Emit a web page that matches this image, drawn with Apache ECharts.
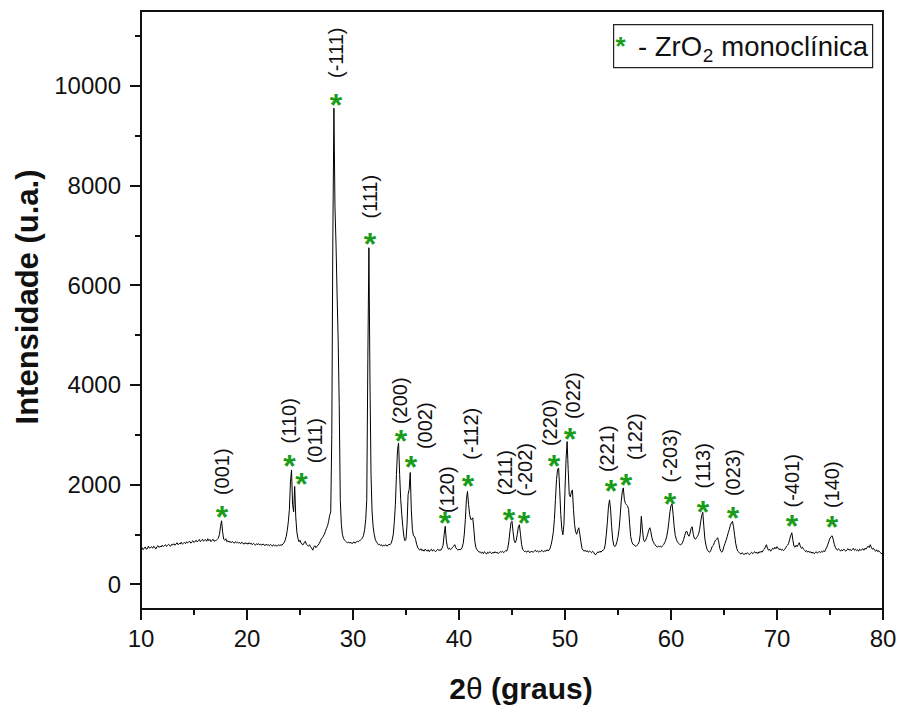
<!DOCTYPE html>
<html>
<head>
<meta charset="utf-8">
<title>DRX ZrO2</title>
<script src="https://cdn.jsdelivr.net/npm/echarts@6/dist/echarts.min.js"></script>
<style>
  html, body { margin: 0; padding: 0; background: #fff; }
  #chart { width: 901px; height: 707px; }
</style>
</head>
<body>
<div id="chart"></div>
<script>
// Diffractogram: intensity sampled every 0.1 degree of 2-theta, from 10.0 to 80.0
const thetaStart = 10.0;
const thetaStep = 0.1;
const intensity = [
  /* 10.0 */ 700, 730, 690, 720, 745, 700, 710, 760, 720, 735,
  /* 11.0 */ 750, 720, 760, 740, 705, 750, 770, 735, 760, 745,
  /* 12.0 */ 780, 750, 770, 790, 755, 780, 800, 770, 760, 800,
  /* 13.0 */ 785, 810, 780, 800, 830, 790, 815, 805, 840, 800,
  /* 14.0 */ 820, 835, 810, 850, 825, 845, 860, 820, 850, 870,
  /* 15.0 */ 835, 860, 880, 845, 870, 895, 850, 875, 900, 860,
  /* 16.0 */ 880, 890, 860, 910, 870, 895, 850, 880, 900, 860,
  /* 17.0 */ 870, 880, 900, 920, 1000, 1150, 1270, 1050, 900, 880,
  /* 18.0 */ 910, 850, 870, 840, 860, 830, 855, 840, 820, 850,
  /* 19.0 */ 830, 845, 820, 835, 810, 840, 825, 800, 830, 815,
  /* 20.0 */ 820, 800, 830, 805, 820, 790, 815, 800, 780, 810,
  /* 21.0 */ 795, 810, 785, 800, 780, 805, 790, 770, 800, 780,
  /* 22.0 */ 790, 770, 795, 780, 760, 790, 770, 785, 760, 775,
  /* 23.0 */ 790, 770, 790, 780, 810, 830, 880, 960, 1080, 1250,
  /* 24.0 */ 1500, 2050, 2290, 1600, 1450, 1960, 1350, 1050, 920, 850,
  /* 25.0 */ 880, 820, 800, 790, 830, 860, 800, 780, 760, 790,
  /* 26.0 */ 750, 720, 680, 740, 770, 730, 760, 780, 810, 850,
  /* 27.0 */ 900, 930, 960, 1000, 1060, 1120, 1170, 1260, 1380, 1450,
  /* 28.0 */ 3000, 7000, 9550, 7570, 6800, 5800, 4900, 3600, 1700, 1200,
  /* 29.0 */ 1000, 920, 880, 860, 840, 830, 845, 820, 840, 810,
  /* 30.0 */ 830, 850, 820, 845, 860, 850, 870, 880, 900, 930,
  /* 31.0 */ 980, 1100, 1300, 1700, 4500, 6750, 4100, 2200, 1450, 1150,
  /* 32.0 */ 1000, 900, 850, 820, 790, 800, 770, 790, 760, 780,
  /* 33.0 */ 770, 790, 760, 780, 800, 790, 820, 890, 1000, 1250,
  /* 34.0 */ 1600, 2200, 2700, 2830, 2200, 1700, 1400, 1150, 950, 870,
  /* 35.0 */ 900, 1200, 1800, 1900, 2240, 1500, 1100, 970, 960, 900,
  /* 36.0 */ 800, 740, 700, 680, 710, 670, 690, 660, 700, 680,
  /* 37.0 */ 660, 690, 650, 680, 700, 660, 690, 670, 650, 680,
  /* 38.0 */ 700, 670, 690, 680, 720, 780, 1000, 1160, 880, 750,
  /* 39.0 */ 700, 720, 690, 710, 740, 760, 790, 730, 700, 680,
  /* 40.0 */ 700, 690, 700, 740, 820, 1000, 1300, 1700, 1860, 1600,
  /* 41.0 */ 1400, 1300, 1300, 1330, 1100, 850, 730, 690, 660, 640,
  /* 42.0 */ 650, 620, 640, 610, 650, 630, 600, 640, 620, 650,
  /* 43.0 */ 630, 610, 640, 620, 650, 625, 640, 610, 635, 650,
  /* 44.0 */ 640, 660, 630, 650, 670, 660, 720, 850, 1050, 1230,
  /* 45.0 */ 1260, 1050, 880, 830, 880, 1000, 1150, 1190, 1000, 800,
  /* 46.0 */ 700, 670, 650, 660, 640, 670, 650, 630, 660, 650,
  /* 47.0 */ 640, 660, 680, 650, 670, 640, 660, 650, 680, 660,
  /* 48.0 */ 650, 670, 660, 690, 670, 680, 720, 800, 900, 1050,
  /* 49.0 */ 1300, 1700, 2100, 2300, 2330, 1900, 1400, 1100, 990, 1200,
  /* 50.0 */ 1900, 2500, 2860, 2300, 1800, 1750, 1850, 1890, 1500, 1200,
  /* 51.0 */ 1050, 1000, 1080, 1130, 1000, 850, 720, 680, 660, 680,
  /* 52.0 */ 650, 670, 640, 660, 650, 630, 660, 640, 600, 590,
  /* 53.0 */ 620, 650, 630, 660, 640, 670, 680, 700, 800, 1000,
  /* 54.0 */ 1250, 1550, 1690, 1500, 1150, 900, 780, 750, 780, 850,
  /* 55.0 */ 950, 1100, 1350, 1650, 1850, 1930, 1700, 1620, 1590, 1570,
  /* 56.0 */ 1500, 1200, 950, 850, 800, 790, 770, 755, 780, 800,
  /* 57.0 */ 850, 1000, 1360, 1100, 900, 850, 880, 930, 1000, 1080,
  /* 58.0 */ 1130, 1050, 930, 860, 820, 790, 760, 740, 760, 750,
  /* 59.0 */ 760, 740, 770, 790, 830, 880, 960, 1080, 1250, 1450,
  /* 60.0 */ 1580, 1610, 1400, 1150, 980, 900, 850, 820, 800, 790,
  /* 61.0 */ 800, 840, 900, 980, 1050, 1060, 990, 960, 1020, 1120,
  /* 62.0 */ 1150, 1000, 920, 900, 930, 960, 1000, 1100, 1250, 1380,
  /* 63.0 */ 1440, 1150, 900, 780, 700, 660, 640, 650, 700, 760,
  /* 64.0 */ 780, 840, 880, 900, 930, 850, 720, 660, 640, 680,
  /* 65.0 */ 760, 820, 880, 950, 1030, 1100, 1180, 1230, 1260, 1150,
  /* 66.0 */ 980, 820, 720, 660, 640, 620, 600, 630, 610, 590,
  /* 67.0 */ 620, 600, 630, 610, 590, 620, 640, 610, 630, 650,
  /* 68.0 */ 620, 640, 610, 650, 630, 660, 640, 680, 700, 740,
  /* 69.0 */ 790, 720, 680, 700, 660, 690, 720, 700, 740, 710,
  /* 70.0 */ 750, 720, 690, 710, 680, 700, 670, 690, 720, 760,
  /* 71.0 */ 780, 820, 900, 980, 1030, 880, 760, 740, 780, 750,
  /* 72.0 */ 790, 830, 760, 720, 740, 700, 680, 650, 670, 640,
  /* 73.0 */ 660, 630, 650, 620, 640, 610, 630, 650, 620, 640,
  /* 74.0 */ 650, 630, 660, 640, 670, 650, 700, 740, 800, 860,
  /* 75.0 */ 920, 950, 970, 900, 800, 740, 700, 680, 710, 690,
  /* 76.0 */ 660, 690, 670, 700, 680, 660, 690, 710, 680, 700,
  /* 77.0 */ 670, 690, 720, 680, 700, 670, 690, 660, 700, 680,
  /* 78.0 */ 690, 710, 680, 720, 700, 740, 760, 730, 790, 740,
  /* 79.0 */ 700, 720, 680, 660, 690, 650, 670, 640, 620, 610,
  /* 80.0 */ 600
];

// Miller indices of the monoclinic ZrO2 reflections
const reflections = ['(001)', '(110)', '(011)', '(-111)', '(111)', '(200)', '(002)', '(120)', '(-112)', '(211)',
  '(-202)', '(220)', '(022)', '(221)', '(122)', '(-203)', '(113)', '(023)', '(-401)', '(140)'];
// [2theta, intensity] anchor of each green marker
const markerAt = [
  [17.64, 1491], [24.00, 2515], [25.13, 2150], [28.40, 9763], [31.60, 6974],
  [34.53, 3017], [35.47, 2495], [38.68, 1371], [40.85, 2113], [44.72, 1431],
  [46.13, 1371], [48.96, 2515], [50.47, 3057], [54.34, 2013], [55.75, 2134],
  [59.91, 1752], [63.02, 1592], [65.85, 1471], [71.42, 1312], [75.19, 1290]
];
// [2theta, intensity] centre of each index label
const labelAt = [
  [17.64, 2254], [23.96, 3277], [26.42, 2876], [28.40, 10662], [31.60, 7773],
  [34.43, 3679], [36.79, 3177], [38.87, 1893], [41.13, 3017], [44.34, 2234],
  [46.23, 2294], [48.58, 3237], [50.75, 3779], [53.96, 2716], [56.60, 2957],
  [59.91, 2575], [63.02, 2374], [65.85, 2234], [71.42, 2073], [75.19, 1993]
];

// Axis ranges and ticks
const xRange = [10, 80];
const xStep = 10;
const yRange = [-500, 11500];
const yTicks = [0, 2000, 4000, 6000, 8000, 10000];
const yMinorTicks = [1000, 3000, 5000, 7000, 9000, 11000];

const FONT = "'Liberation Sans', Arial, Helvetica, sans-serif";
const GREEN = '#1a9c1a';
const INK = '#111';

const pattern = intensity.map((v, i) => [+(thetaStart + i * thetaStep).toFixed(1), v]);

const chart = echarts.init(document.getElementById('chart'), null, { renderer: 'svg' });

const axisLineStyle = { color: '#111', width: 2 };

// measure text so the legend pieces sit side by side
const ctx = document.createElement('canvas').getContext('2d');
function textWidth(str, size, weight) {
  ctx.font = (weight || 'normal') + ' ' + size + 'px ' + FONT;
  return ctx.measureText(str).width;
}

const legendX = 638, legendBase = 46;
const w1 = textWidth('- ZrO', 27.5);
const w2 = textWidth('2', 19);

chart.setOption({
  animation: false,
  backgroundColor: '#fff',
  grid: {
    left: 141, right: 18, top: 11, bottom: 98,
    show: true, borderColor: '#111', borderWidth: 2, backgroundColor: 'transparent'
  },
  xAxis: {
    type: 'value', min: xRange[0], max: xRange[1], interval: xStep,
    axisLine: { show: true, onZero: false, lineStyle: axisLineStyle },
    axisTick: { show: true, inside: false, length: 11, lineStyle: axisLineStyle },
    minorTick: { show: true, splitNumber: 2, length: 6, lineStyle: axisLineStyle },
    splitLine: { show: false },
    axisLabel: { fontSize: 24, color: INK, fontFamily: FONT, margin: 17 }
  },
  yAxis: [
    {
      type: 'value', min: yRange[0], max: yRange[1],
      axisLine: { show: true, onZero: false, lineStyle: axisLineStyle },
      axisTick: { show: true, inside: false, length: 11, lineStyle: axisLineStyle, customValues: yTicks },
      axisLabel: {
        fontSize: 24, color: INK, fontFamily: FONT, margin: 20, customValues: yTicks,
        formatter: v => String(v)
      },
      splitLine: { show: false }
    },
    {
      type: 'value', min: yRange[0], max: yRange[1], position: 'left',
      axisLine: { show: false },
      axisTick: { show: true, inside: false, length: 6, lineStyle: axisLineStyle, customValues: yMinorTicks },
      axisLabel: { show: false },
      splitLine: { show: false }
    }
  ],
  series: [
    {
      type: 'line', data: pattern, yAxisIndex: 0,
      showSymbol: false, symbol: 'none', sampling: null,
      lineStyle: { color: '#000', width: 1 }, silent: true, z: 3
    },
    {
      type: 'scatter', yAxisIndex: 0, symbolSize: 1, silent: true, z: 5,
      itemStyle: { color: 'rgba(0,0,0,0)', opacity: 1 },
      data: markerAt.map((p, i) => ({ value: p, name: reflections[i] })),
      label: {
        show: true, position: 'inside', formatter: '*', offset: [0, 7],
        fontSize: 32, lineHeight: 14, fontWeight: 'bold', color: GREEN, fontFamily: FONT
      }
    },
    {
      type: 'scatter', yAxisIndex: 0, symbolSize: 1, silent: true, z: 5,
      itemStyle: { color: 'rgba(0,0,0,0)', opacity: 1 },
      data: labelAt.map((p, i) => ({ value: p, name: reflections[i] })),
      label: {
        show: true, position: 'inside', rotate: 90, formatter: p => p.name,
        fontSize: 20, color: INK, fontFamily: FONT
      }
    }
  ],
  graphic: [
    // legend box
    {
      type: 'rect', left: 613, top: 24, z: 10,
      shape: { width: 259, height: 43 },
      style: { fill: '#fff', stroke: '#222', lineWidth: 1.2 }
    },
    {
      type: 'text', x: 615.5, y: legendBase, z: 11,
      style: { text: '*', font: 'bold 26px ' + FONT, fill: GREEN, verticalAlign: 'middle' }
    },
    {
      type: 'text', x: legendX, y: legendBase, z: 11,
      style: { text: '- ZrO', font: '27.5px ' + FONT, fill: INK, verticalAlign: 'middle' }
    },
    {
      type: 'text', x: legendX + w1 + 0.5, y: legendBase + 9, z: 11,
      style: { text: '2', font: '19px ' + FONT, fill: INK, verticalAlign: 'middle' }
    },
    {
      type: 'text', x: legendX + w1 + w2 + 1, y: legendBase, z: 11,
      style: { text: ' monoclínica', font: '27.5px ' + FONT, fill: INK, verticalAlign: 'middle' }
    },
    // axis titles
    {
      type: 'text', x: 27, y: 297, rotation: Math.PI / 2, z: 11,
      style: {
        text: 'Intensidade (u.a.)', font: 'bold 31px ' + FONT, fill: INK,
        align: 'center', verticalAlign: 'middle'
      }
    },
    {
      type: 'text', x: 521, y: 688, z: 11,
      style: {
        text: '{b|2}{t|θ}{b| (graus)}', align: 'center', verticalAlign: 'middle',
        rich: {
          b: { font: 'bold 30px ' + FONT, fill: INK },
          t: { font: '30px ' + FONT, fill: INK }
        }
      }
    }
  ]
});
</script>
</body>
</html>
